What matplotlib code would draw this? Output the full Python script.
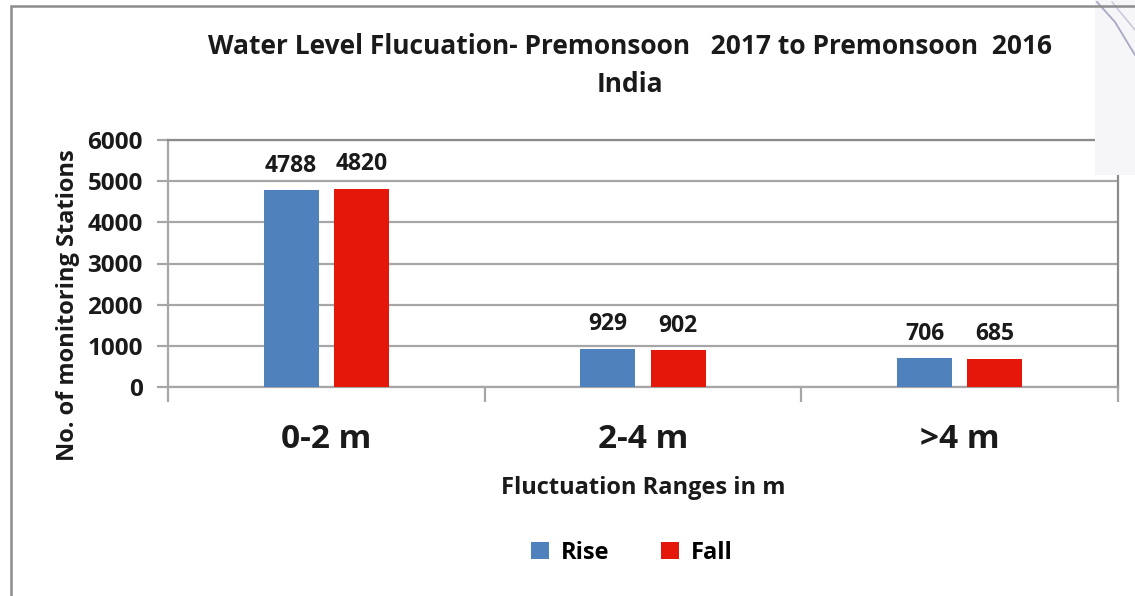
import numpy as np
import matplotlib.pyplot as plt
from matplotlib.patches import Rectangle
from matplotlib.lines import Line2D

categories = ['0-2 m', '2-4 m', '>4 m']
rise = [4788, 929, 706]
fall = [4820, 902, 685]
yticks = [0, 1000, 2000, 3000, 4000, 5000, 6000]

plt.rcParams['font.family'] = ['Open Sans', 'DejaVu Sans']
plt.rcParams['font.weight'] = 'bold'

fig = plt.figure(figsize=(11.35, 5.96), dpi=100)
W, H = 1135, 596

# faint grey corner patch and outer frame of the slide
fig.patches.append(Rectangle((1095 / W, 1 - 175 / H), 40 / W, 175 / H, transform=fig.transFigure,
                             facecolor='#f6f6f9', edgecolor='none', zorder=0))
fig.lines.append(Line2D([1097 / W, 1115 / W, 1135 / W], [1 - 2 / H, 1 - 22 / H, 1 - 55 / H],
                        transform=fig.transFigure, color='#a8a8c4', lw=1.3, zorder=1))
fig.lines.append(Line2D([1112 / W, 1135 / W], [1 - 2 / H, 1 - 30 / H],
                        transform=fig.transFigure, color='#c4c4d8', lw=1.0, zorder=1))
fig.patches.append(Rectangle((11 / W, -0.1), 1.2, 1 - 6 / H + 0.1, transform=fig.transFigure,
                             facecolor='none', edgecolor='#8c8c8c', lw=1.8, zorder=1))

ax = fig.add_axes([168 / W, 1 - 387 / H, (1118 - 168) / W, (387 - 140) / H])
ax.set_facecolor('none')

x = np.arange(len(categories))
bw = 0.174
off = 0.111
b1 = ax.bar(x - off, rise, bw, color='#4f81bd', label='Rise', zorder=3)
b2 = ax.bar(x + off, fall, bw, color='#e5170b', label='Fall', zorder=3)

for bars, vals in ((b1, rise), (b2, fall)):
    for b, v in zip(bars, vals):
        ax.text(b.get_x() + b.get_width() / 2, v + 300, str(v), ha='center', va='bottom',
                fontsize=16.5, fontweight='bold', color='#1a1a1a')

ax.set_xlim(-0.5, 2.5)
ax.set_ylim(0, 6000)
ax.set_yticks(yticks)
ax.set_yticklabels([str(t) for t in yticks], fontsize=17.5, fontweight='bold', color='#1a1a1a')
ax.yaxis.grid(True, color='#a6a6a6', lw=1.6, zorder=0)
ax.tick_params(axis='y', length=8, width=1.6, color='#a6a6a6', pad=10)

ax.set_xticks([-0.5, 0.5, 1.5, 2.5])
ax.set_xticklabels(['', '', '', ''])
ax.tick_params(axis='x', length=11, width=1.6, color='#a6a6a6')
ax.set_xticks(x, minor=True)
ax.set_xticklabels(categories, minor=True, fontsize=24, fontweight='bold', color='#1a1a1a')
ax.tick_params(axis='x', which='minor', length=0, pad=26)

for s in ['left', 'bottom', 'top', 'right']:
    ax.spines[s].set_color('#a6a6a6')
    ax.spines[s].set_linewidth(1.6)
ax.spines['right'].set_color('#8c8c8c')
ax.spines['top'].set_color('#8c8c8c')

ax.set_xlabel('Fluctuation Ranges in m', fontsize=17, fontweight='bold', labelpad=14, color='#1a1a1a')
ax.set_ylabel('No. of monitoring Stations', fontsize=17, fontweight='bold', color='#1a1a1a')
ax.yaxis.set_label_coords(-0.093, 0.33)

fig.text(630 / W, 1 - 47 / H, 'Water Level Flucuation- Premonsoon   2017 to Premonsoon  2016',
         ha='center', va='center', fontsize=19, fontweight='bold', color='#1a1a1a')
fig.text(630 / W, 1 - 85 / H, 'India', ha='center', va='center', fontsize=19,
         fontweight='bold', color='#1a1a1a')

fig.legend(loc='center', bbox_to_anchor=(632 / W, 1 - 553 / H), ncol=2, frameon=False,
           fontsize=17, handlelength=0.75, handleheight=0.75, columnspacing=2.2, handletextpad=0.5)

fig.savefig('out.png', dpi=100)
